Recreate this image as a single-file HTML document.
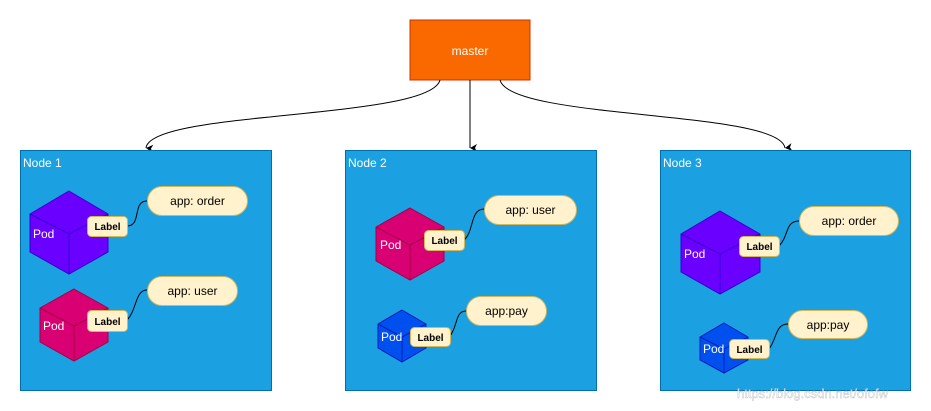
<!DOCTYPE html>
<html><head><meta charset="utf-8"><style>
body{margin:0;background:#fff;}
svg{display:block;font-family:"Liberation Sans",Arial,sans-serif;}
</style></head><body>
<svg width="931" height="411" viewBox="0 0 931 411" xmlns="http://www.w3.org/2000/svg">
<defs>
<marker id="ah" markerWidth="10" markerHeight="10" refX="5" refY="8" orient="auto" markerUnits="userSpaceOnUse">
<path d="M1,1 L5,8 L9,1 L5,3 Z" fill="#000"/>
</marker>
</defs>
<!-- master -->
<rect x="410" y="20" width="120" height="60" fill="#fa6800" stroke="#c73500"/>
<text x="470" y="55" fill="#fff" font-size="12" text-anchor="middle">master</text>
<!-- arrows -->
<path d="M440,80 C430,120 150,110 146,148" fill="none" stroke="#000" marker-end="url(#ah)"/>
<path d="M470,80 L470,148" fill="none" stroke="#000" marker-end="url(#ah)"/>
<path d="M500,80 C510,120 780,110 785,148" fill="none" stroke="#000" marker-end="url(#ah)"/>
<!-- nodes -->
<rect x="20.5" y="150.5" width="251" height="240" fill="#1ba1e2" stroke="#006eaf"/>
<rect x="345.5" y="150.5" width="251" height="240" fill="#1ba1e2" stroke="#006eaf"/>
<rect x="660.5" y="150.5" width="250" height="240" fill="#1ba1e2" stroke="#006eaf"/>
<g fill="#fff" font-size="12"><text x="23" y="167">Node 1</text><text x="348" y="167">Node 2</text><text x="663" y="167">Node 3</text></g>

<!-- cubes: helper shape drawn manually -->
<!-- Node1 purple: 30..108, 191..274 -->
<g stroke="#3700cc" stroke-width="1">
<path d="M69,191 L108,214 L108,252 L69,274 L30,252 L30,214 Z" fill="#6a00ff"/>
<path d="M30,214 L69,234 L108,214 M69,234 L69,274" fill="none"/>
</g>
<!-- Node1 pink: 40..108, 289..361 -->
<g stroke="#a50040">
<path d="M74,289 L108,308 L108,342 L74,361 L40,342 L40,308 Z" fill="#d80073"/>
<path d="M40,308 L74,326 L108,308 M74,326 L74,361" fill="none"/>
</g>
<!-- Node2 pink: 376..444, 208..280 -->
<g stroke="#a50040">
<path d="M410,208 L444,227 L444,261 L410,280 L376,261 L376,227 Z" fill="#d80073"/>
<path d="M376,227 L410,245 L444,227 M410,245 L410,280" fill="none"/>
</g>
<!-- Node2 blue: 378..426, 310..362 -->
<g stroke="#001dbc">
<path d="M402,310 L426,324 L426,348 L402,362 L378,348 L378,324 Z" fill="#0050ef"/>
<path d="M378,324 L402,337 L426,324 M402,337 L402,362" fill="none"/>
</g>
<!-- Node3 purple: 681..760, 211..294 -->
<g stroke="#3700cc">
<path d="M720,211 L760,234 L760,272 L720,294 L681,272 L681,234 Z" fill="#6a00ff"/>
<path d="M681,234 L720,254 L760,234 M720,254 L720,294" fill="none"/>
</g>
<!-- Node3 blue: 700..748, 323..373 -->
<g stroke="#001dbc">
<path d="M724,323 L748,337 L748,360 L724,373 L700,360 L700,337 Z" fill="#0050ef"/>
<path d="M700,337 L724,349 L748,337 M724,349 L724,373" fill="none"/>
</g>
<g fill="#fff" font-size="12">
<text x="33" y="238">Pod</text><text x="43" y="330">Pod</text>
<text x="380" y="249">Pod</text><text x="381" y="341">Pod</text>
<text x="684" y="258">Pod</text><text x="703" y="353">Pod</text>
</g>

<!-- connectors -->
<g fill="none" stroke="#000" stroke-width="1">
<path d="M127,226 C142,226 132,201 147,201"/>
<path d="M127,320 C137,310 135,290 147,290"/>
<path d="M464,240 C474,232 470,209 484,209"/>
<path d="M450,336 C458,326 455,311 466,311"/>
<path d="M779,246 C789,236 785,221 799,221"/>
<path d="M769,349 C777,339 775,324 788,324"/>
</g>

<!-- label boxes -->
<g fill="#fff2cc" stroke="#d6b656">
<rect x="87.5" y="216.5" width="40" height="20" rx="4"/>
<rect x="87.5" y="310.5" width="40" height="21" rx="4"/>
<rect x="424.5" y="230.5" width="40" height="20" rx="4"/>
<rect x="410.5" y="327.5" width="40" height="19" rx="4"/>
<rect x="739.5" y="236.5" width="40" height="20" rx="4"/>
<rect x="729.5" y="339.5" width="40" height="19" rx="4"/>
<rect x="147.5" y="186.5" width="100" height="29" rx="14.5"/>
<rect x="147.5" y="276.5" width="90" height="29" rx="14.5"/>
<rect x="484.5" y="195.5" width="92" height="29" rx="14.5"/>
<rect x="466.5" y="296.5" width="80" height="29" rx="14.5"/>
<rect x="799.5" y="206.5" width="99" height="29" rx="14.5"/>
<rect x="788.5" y="310.5" width="79" height="28" rx="14"/>
</g>
<g font-size="10" font-weight="bold" text-anchor="middle" fill="#000">
<text x="107.5" y="230">Label</text><text x="107.5" y="325">Label</text>
<text x="444.5" y="244">Label</text><text x="430.5" y="341">Label</text>
<text x="759.5" y="250">Label</text><text x="749.5" y="353">Label</text>
</g>
<g font-size="12" text-anchor="middle" fill="#000">
<text x="197.5" y="205">app: order</text><text x="192.5" y="295">app: user</text>
<text x="530.5" y="214">app: user</text><text x="506.5" y="315">app:pay</text>
<text x="849" y="225">app: order</text><text x="828" y="329">app:pay</text>
</g>
<text x="737" y="398" font-size="13" fill="#fff" fill-opacity="0.75" stroke="#bbb" stroke-width="0.4">https://blog.csdn.net/ofofw</text>
</svg>
</body></html>
